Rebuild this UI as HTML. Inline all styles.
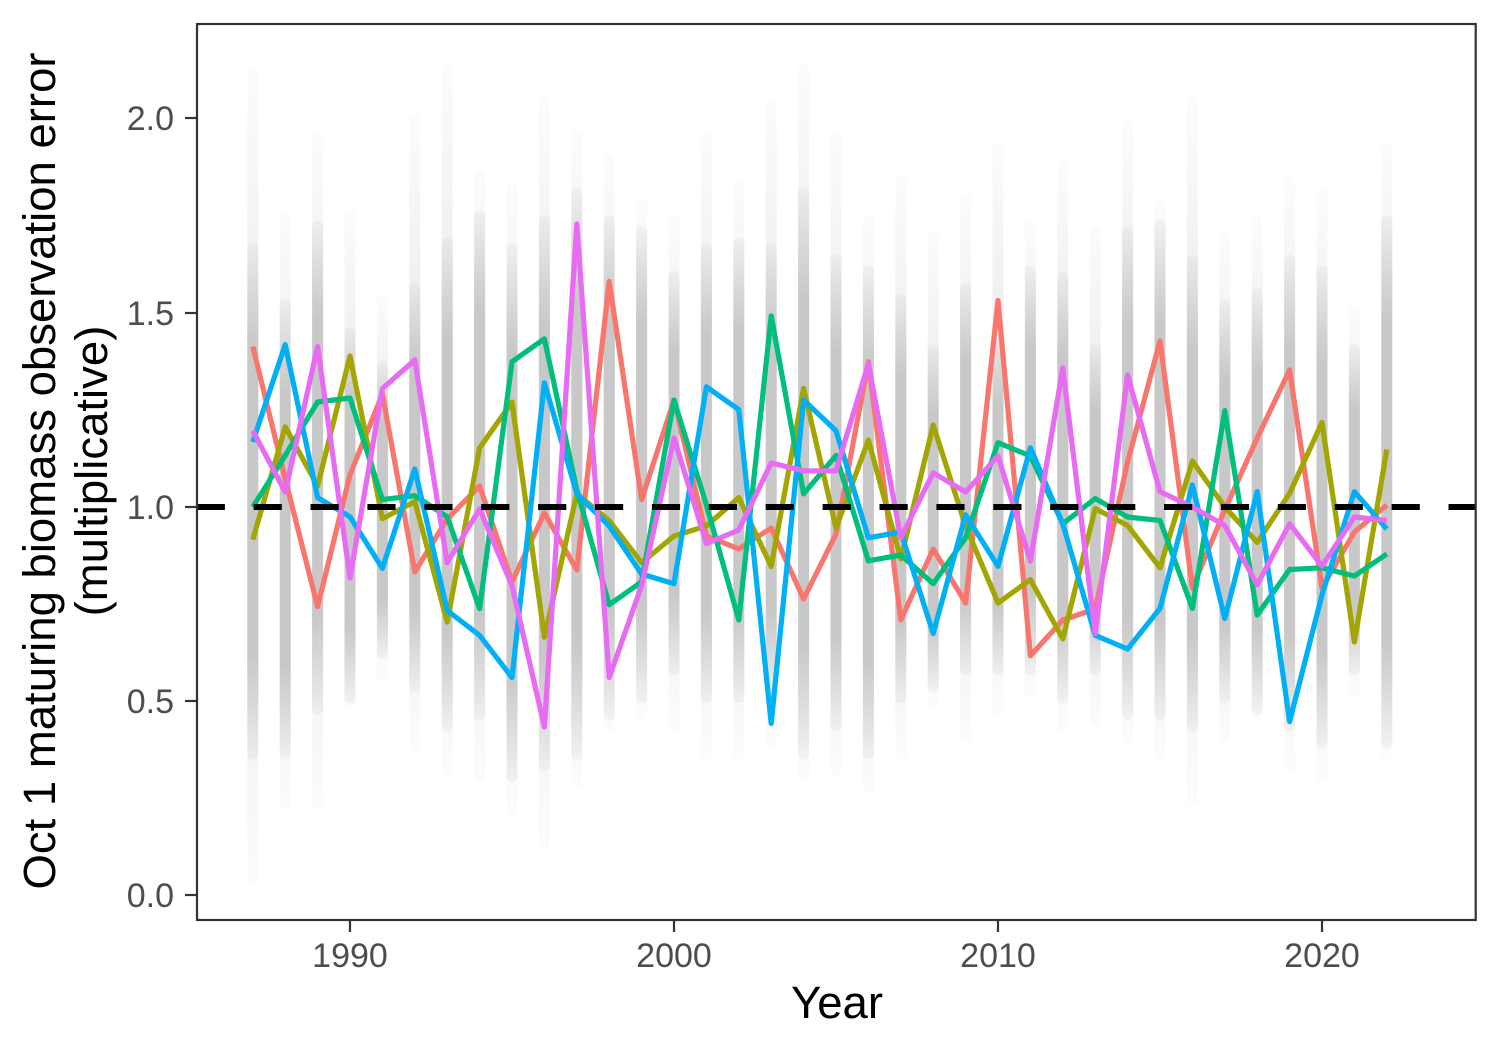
<!DOCTYPE html>
<html>
<head>
<meta charset="utf-8">
<style>
  html,body{margin:0;padding:0;background:#ffffff;}
  svg{display:block;}
  text{font-family:"Liberation Sans", Arial, sans-serif;}
</style>
</head>
<body>
<svg width="1500" height="1050" viewBox="0 0 1500 1050" xmlns="http://www.w3.org/2000/svg">
  <defs>
    <linearGradient id="fa" x1="0" y1="0" x2="0" y2="1">
      <stop offset="0" stop-color="#cccccc" stop-opacity="0.06"/>
      <stop offset="0.5" stop-color="#cccccc" stop-opacity="0.5"/>
      <stop offset="1" stop-color="#cccccc" stop-opacity="0.06"/>
    </linearGradient>
    <linearGradient id="fb" x1="0" y1="0" x2="0" y2="1">
      <stop offset="0" stop-color="#c4c4c4" stop-opacity="0.15"/>
      <stop offset="0.2" stop-color="#c4c4c4" stop-opacity="0.9"/>
      <stop offset="0.8" stop-color="#c4c4c4" stop-opacity="0.9"/>
      <stop offset="1" stop-color="#c4c4c4" stop-opacity="0.15"/>
    </linearGradient>
    <clipPath id="panel"><rect x="197" y="24" width="1279" height="896"/></clipPath>
  </defs>

  <rect x="0" y="0" width="1500" height="1050" fill="#ffffff"/>

  <g clip-path="url(#panel)">
    <g fill="url(#fa)">
      <rect x="247.3" y="69.3" width="11" height="813.7" rx="5.5"/>
      <rect x="279.7" y="209.6" width="11" height="600.4" rx="5.5"/>
      <rect x="312.1" y="131" width="11" height="679" rx="5.5"/>
      <rect x="344.5" y="209.6" width="11" height="499.4" rx="5.5"/>
      <rect x="376.9" y="293.8" width="11" height="387.2" rx="5.5"/>
      <rect x="409.3" y="114.2" width="11" height="639.8" rx="5.5"/>
      <rect x="441.7" y="63.7" width="11" height="712.7" rx="5.5"/>
      <rect x="474.1" y="170.3" width="11" height="611.7" rx="5.5"/>
      <rect x="506.5" y="181.5" width="11" height="634.2" rx="5.5"/>
      <rect x="538.9" y="97.3" width="11" height="752.1" rx="5.5"/>
      <rect x="571.3" y="131" width="11" height="656.6" rx="5.5"/>
      <rect x="603.7" y="153.5" width="11" height="578" rx="5.5"/>
      <rect x="636.1" y="198.4" width="11" height="521.9" rx="5.5"/>
      <rect x="668.5" y="215.2" width="11" height="516.3" rx="5.5"/>
      <rect x="700.9" y="131" width="11" height="628.6" rx="5.5"/>
      <rect x="733.3" y="181.5" width="11" height="578.1" rx="5.5"/>
      <rect x="765.7" y="97.3" width="11" height="651" rx="5.5"/>
      <rect x="798.1" y="63.7" width="11" height="718.3" rx="5.5"/>
      <rect x="830.5" y="131" width="11" height="645.4" rx="5.5"/>
      <rect x="862.9" y="215.2" width="11" height="578" rx="5.5"/>
      <rect x="895.3" y="175.9" width="11" height="583.7" rx="5.5"/>
      <rect x="927.7" y="232" width="11" height="477" rx="5.5"/>
      <rect x="960.1" y="192.7" width="11" height="550" rx="5.5"/>
      <rect x="992.5" y="142.2" width="11" height="572.5" rx="5.5"/>
      <rect x="1024.9" y="220.8" width="11" height="477" rx="5.5"/>
      <rect x="1057.3" y="159.1" width="11" height="572.4" rx="5.5"/>
      <rect x="1089.7" y="226.4" width="11" height="499.5" rx="5.5"/>
      <rect x="1122.1" y="119.8" width="11" height="622.9" rx="5.5"/>
      <rect x="1154.5" y="198.4" width="11" height="561.2" rx="5.5"/>
      <rect x="1186.9" y="97.3" width="11" height="707.2" rx="5.5"/>
      <rect x="1219.3" y="232" width="11" height="510.7" rx="5.5"/>
      <rect x="1251.7" y="215.2" width="11" height="505.1" rx="5.5"/>
      <rect x="1284.1" y="175.9" width="11" height="594.9" rx="5.5"/>
      <rect x="1316.5" y="187" width="11" height="595" rx="5.5"/>
      <rect x="1348.9" y="305" width="11" height="392.8" rx="5.5"/>
      <rect x="1381.3" y="142.2" width="11" height="617.4" rx="5.5"/>
    </g>
    <g fill="url(#fb)">
      <rect x="247.3" y="243.3" width="11" height="516.3" rx="5.5"/>
      <rect x="279.7" y="299.4" width="11" height="460.2" rx="5.5"/>
      <rect x="312.1" y="220.8" width="11" height="493.9" rx="5.5"/>
      <rect x="344.5" y="327.4" width="11" height="376" rx="5.5"/>
      <rect x="376.9" y="361" width="11" height="297.5" rx="5.5"/>
      <rect x="409.3" y="282.5" width="11" height="409.7" rx="5.5"/>
      <rect x="441.7" y="237.6" width="11" height="493.9" rx="5.5"/>
      <rect x="474.1" y="209.6" width="11" height="510.7" rx="5.5"/>
      <rect x="506.5" y="243.3" width="11" height="538.7" rx="5.5"/>
      <rect x="538.9" y="215.2" width="11" height="555.6" rx="5.5"/>
      <rect x="571.3" y="187" width="11" height="572.6" rx="5.5"/>
      <rect x="603.7" y="215.2" width="11" height="505.1" rx="5.5"/>
      <rect x="636.1" y="226.4" width="11" height="477" rx="5.5"/>
      <rect x="668.5" y="271.3" width="11" height="404.1" rx="5.5"/>
      <rect x="700.9" y="243.3" width="11" height="460.1" rx="5.5"/>
      <rect x="733.3" y="237.6" width="11" height="465.8" rx="5.5"/>
      <rect x="765.7" y="243.3" width="11" height="460.1" rx="5.5"/>
      <rect x="798.1" y="187" width="11" height="572.6" rx="5.5"/>
      <rect x="830.5" y="254.5" width="11" height="477" rx="5.5"/>
      <rect x="862.9" y="265.7" width="11" height="493.9" rx="5.5"/>
      <rect x="895.3" y="293.8" width="11" height="409.6" rx="5.5"/>
      <rect x="927.7" y="344.3" width="11" height="347.9" rx="5.5"/>
      <rect x="960.1" y="282.5" width="11" height="392.9" rx="5.5"/>
      <rect x="992.5" y="338.7" width="11" height="336.7" rx="5.5"/>
      <rect x="1024.9" y="265.7" width="11" height="409.7" rx="5.5"/>
      <rect x="1057.3" y="271.3" width="11" height="432.1" rx="5.5"/>
      <rect x="1089.7" y="344.3" width="11" height="331.1" rx="5.5"/>
      <rect x="1122.1" y="226.4" width="11" height="493.9" rx="5.5"/>
      <rect x="1154.5" y="220" width="11" height="500.3" rx="5.5"/>
      <rect x="1186.9" y="254.5" width="11" height="477" rx="5.5"/>
      <rect x="1219.3" y="299.4" width="11" height="404" rx="5.5"/>
      <rect x="1251.7" y="288.2" width="11" height="426.5" rx="5.5"/>
      <rect x="1284.1" y="254.5" width="11" height="477" rx="5.5"/>
      <rect x="1316.5" y="265.7" width="11" height="482.6" rx="5.5"/>
      <rect x="1348.9" y="344.3" width="11" height="331.1" rx="5.5"/>
      <rect x="1381.3" y="215.2" width="11" height="533.1" rx="5.5"/>
    </g>

    <g fill="none" stroke-width="5.2" stroke-linejoin="round" stroke-linecap="butt">
      <polyline stroke="#F8766D" points="252.8,346.5 285.2,479 317.6,606.7 350,474.7 382.4,394 414.8,572 447.2,519 479.6,486 512,581.8 544.4,513 576.8,570 609.2,281.4 641.6,499.6 674,400 706.4,536 738.8,549 771.2,528 803.6,599 836,534 868.4,361.8 900.8,620 933.2,549 965.6,603 998,300.5 1030.4,655.7 1062.8,620 1095.2,609 1127.6,462 1160,341 1192.4,588 1224.8,510 1257.2,438 1289.6,370 1322,588 1354.4,532 1386.8,505"/>
      <polyline stroke="#A3A500" points="252.8,539.7 285.2,426.8 317.6,486 350,356 382.4,518.7 414.8,501.5 447.2,622 479.6,448 512,402 544.4,637.3 576.8,493.8 609.2,520.6 641.6,562.7 674,536 706.4,526 738.8,497.6 771.2,566.5 803.6,388.6 836,528 868.4,440 900.8,559 933.2,425 965.6,526 998,603 1030.4,579.6 1062.8,638.8 1095.2,508.6 1127.6,525.5 1160,567.8 1192.4,461 1224.8,507 1257.2,542.4 1289.6,493.4 1322,422.4 1354.4,642 1386.8,449.5"/>
      <polyline stroke="#00BF7D" points="252.8,507 285.2,455.5 317.6,402 350,398 382.4,499.6 414.8,495.7 447.2,516.8 479.6,608.6 512,361.8 544.4,338.8 576.8,490 609.2,604.8 641.6,581.8 674,400 706.4,505 738.8,620 771.2,315.9 803.6,493.8 836,455.5 868.4,560.8 900.8,555 933.2,583.7 965.6,537.8 998,442.7 1030.4,456 1062.8,523.8 1095.2,498.5 1127.6,517 1160,520.4 1192.4,608.4 1224.8,410.6 1257.2,615 1289.6,569.5 1322,567.8 1354.4,576 1386.8,554"/>
      <polyline stroke="#00B0F6" points="252.8,442 285.2,344.6 317.6,497.6 350,516.8 382.4,568.4 414.8,469 447.2,610.5 479.6,635.4 512,677.5 544.4,382.8 576.8,493.8 609.2,526 641.6,574 674,583.7 706.4,386.7 738.8,409.6 771.2,723.4 803.6,400 836,430.7 868.4,537.8 900.8,532 933.2,633.5 965.6,514.9 998,566.3 1030.4,447.8 1062.8,523.8 1095.2,635.4 1127.6,649 1160,608.4 1192.4,485 1224.8,618.5 1257.2,491.7 1289.6,721.6 1322,594.8 1354.4,491.7 1386.8,529"/>
      <polyline stroke="#E76BF3" points="252.8,430.7 285.2,492 317.6,346.5 350,578 382.4,388.6 414.8,360 447.2,562.7 479.6,509 512,585.7 544.4,727 576.8,224 609.2,677.5 641.6,585.7 674,438 706.4,543.6 738.8,530 771.2,463 803.6,470.8 836,470.8 868.4,363.7 900.8,537.8 933.2,472.8 965.6,492 998,456 1030.4,561 1062.8,368 1095.2,633.7 1127.6,375 1160,491.7 1192.4,507 1224.8,525.5 1257.2,584.7 1289.6,523.8 1322,566 1354.4,517 1386.8,520.4"/>
    </g>

    <line x1="196.7" y1="507" x2="1476" y2="507" stroke="#000000" stroke-width="6" stroke-dasharray="28.2 28.7"/>
  </g>

  <rect x="197" y="24" width="1278.7" height="896" fill="none" stroke="#333333" stroke-width="2.2"/>

  <g stroke="#333333" stroke-width="2.2">
    <line x1="185" y1="895" x2="197" y2="895"/>
    <line x1="185" y1="701" x2="197" y2="701"/>
    <line x1="185" y1="507" x2="197" y2="507"/>
    <line x1="185" y1="313" x2="197" y2="313"/>
    <line x1="185" y1="118" x2="197" y2="118"/>
  </g>
  <g stroke="#333333" stroke-width="2.2">
    <line x1="350" y1="920" x2="350" y2="932"/>
    <line x1="674" y1="920" x2="674" y2="932"/>
    <line x1="998" y1="920" x2="998" y2="932"/>
    <line x1="1322" y1="920" x2="1322" y2="932"/>
  </g>

  <g fill="#4d4d4d" font-size="34" text-anchor="end">
    <text x="174" y="907">0.0</text>
    <text x="174" y="713">0.5</text>
    <text x="174" y="519">1.0</text>
    <text x="174" y="325">1.5</text>
    <text x="174" y="130">2.0</text>
  </g>
  <g fill="#4d4d4d" font-size="34" text-anchor="middle">
    <text x="350" y="967">1990</text>
    <text x="674" y="967">2000</text>
    <text x="998" y="967">2010</text>
    <text x="1322" y="967">2020</text>
  </g>

  <text x="837" y="1018" font-size="45.5" fill="#000000" text-anchor="middle">Year</text>
  <g transform="translate(55,471) rotate(-90)">
    <text x="0" y="0" font-size="45.5" fill="#000000" text-anchor="middle">Oct 1 maturing biomass observation error</text>
  </g>
  <g transform="translate(107,471) rotate(-90)">
    <text x="0" y="0" font-size="45.5" fill="#000000" text-anchor="middle">(multiplicative)</text>
  </g>
</svg>
</body>
</html>
